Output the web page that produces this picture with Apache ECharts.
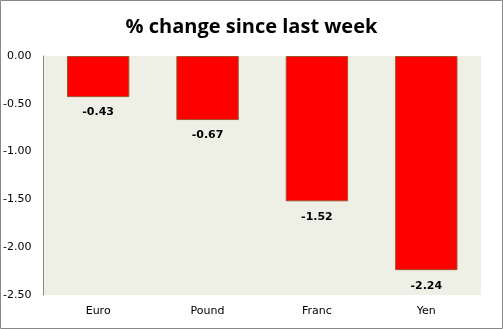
<!DOCTYPE html>
<html><head><meta charset="utf-8">
<script src="https://cdn.jsdelivr.net/npm/echarts@6/dist/echarts.min.js"></script>
<style>html,body{margin:0;padding:0;background:#fff;}#c{width:503px;height:329px;}</style>
</head><body><div id="c"></div>
<script>
var categories = ['Euro', 'Pound', 'Franc', 'Yen'];
var values = [-0.43, -0.67, -1.52, -2.24];
var yTicks = [0, -0.5, -1, -1.5, -2, -2.5];

var chart = echarts.init(document.getElementById('c'), null, {renderer: 'canvas'});
chart.setOption({
  animation: false,
  backgroundColor: '#ffffff',
  title: {
    text: '% change since last week',
    left: 'center', top: 12,
    textStyle: {fontFamily: 'Open Sans', fontWeight: 'bold', fontSize: 20, color: '#000'}
  },
  graphic: [{
    type: 'rect', shape: {x: 0.5, y: 0.5, width: 502, height: 328},
    style: {fill: 'none', stroke: '#888', lineWidth: 1}, silent: true, z: 100
  }],
  grid: {left: 43, right: 22, top: 56, bottom: 34, show: true, backgroundColor: '#eef0e6', borderWidth: 0},
  xAxis: {
    type: 'category', data: categories, position: 'bottom',
    axisLine: {show: false}, axisTick: {show: false},
    axisLabel: {fontFamily: 'DejaVu Sans', fontSize: 11, color: '#000', margin: 11}
  },
  yAxis: {
    type: 'value', min: -2.5, max: 0, interval: 0.5,
    axisLine: {show: true, lineStyle: {color: '#888'}},
    axisTick: {show: false}, splitLine: {show: false},
    axisLabel: {fontFamily: 'DejaVu Sans', fontSize: 11, color: '#000', margin: 12,
      formatter: function (v) { return v.toFixed(2); }}
  },
  series: [{
    type: 'bar', data: values, barWidth: '57%',
    itemStyle: {color: '#ff0000', borderColor: '#a0522d', borderWidth: 1},
    label: {show: true, position: 'bottom', distance: 10, fontFamily: 'DejaVu Sans', fontSize: 11, fontWeight: 'bold', color: '#000',
      formatter: function (p) { return p.value.toFixed(2); }}
  }]
});
</script></body></html>
